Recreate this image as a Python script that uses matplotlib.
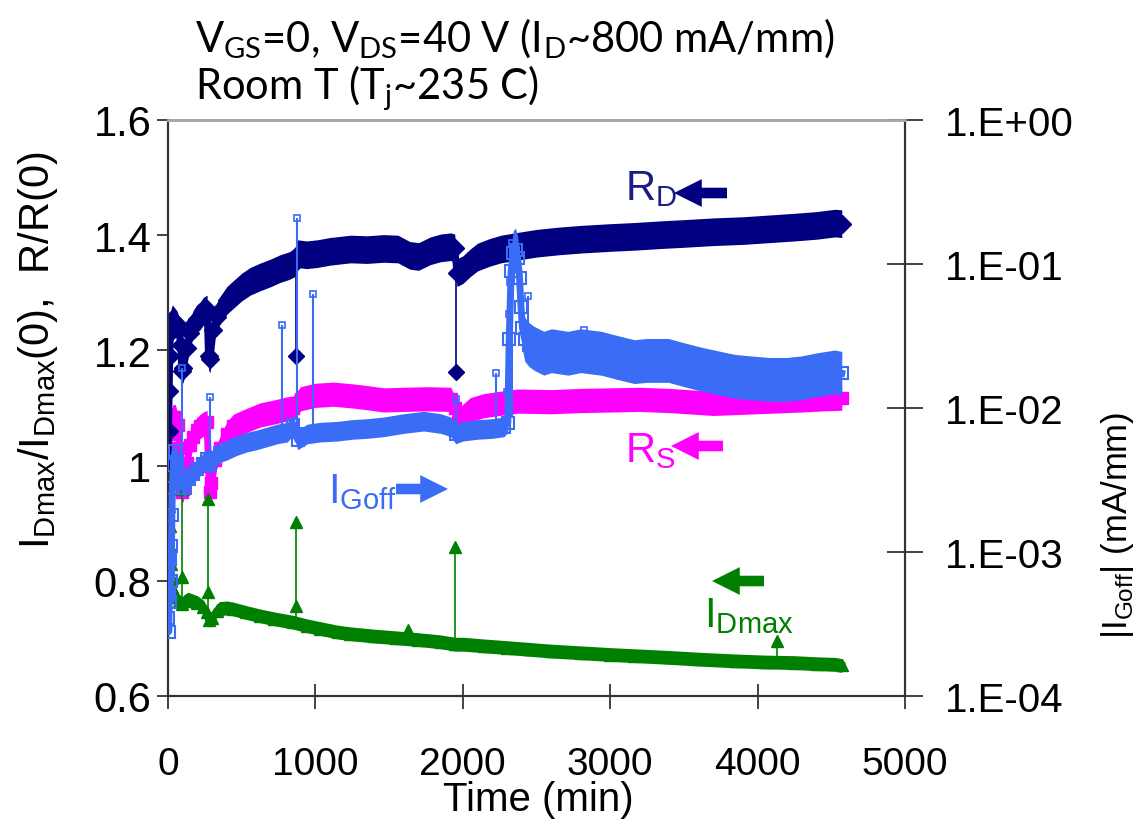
import matplotlib
matplotlib.use('Agg')
import matplotlib.pyplot as plt
from matplotlib.ticker import FixedLocator, FixedFormatter, NullLocator

# ---------------- data ----------------
# R_D / R_D(0)  (left axis)
RD = [(0, 1.00), (4, 1.06), (8, 1.13), (12, 1.19), (16, 1.23), (22, 1.25), (30, 1.255),
      (45, 1.25), (60, 1.245), (75, 1.235), (85, 1.21), (95, 1.165), (105, 1.17), (129, 1.205),
      (150, 1.23), (170, 1.245), (195, 1.255), (218, 1.26), (240, 1.268), (265, 1.272),
      (275, 1.19), (285, 1.185), (306, 1.235), (330, 1.258), (354, 1.27), (400, 1.287),
      (443, 1.297), (500, 1.31), (558, 1.32), (620, 1.327), (700, 1.335), (760, 1.342),
      (820, 1.347), (860, 1.352), (880, 1.368), (940, 1.366), (1013, 1.368), (1100, 1.372),
      (1238, 1.376), (1350, 1.375), (1463, 1.377), (1560, 1.376), (1640, 1.365), (1700, 1.363),
      (1780, 1.373), (1850, 1.378), (1918, 1.38), (1945, 1.378), (1960, 1.335), (2000, 1.34),
      (2050, 1.352), (2100, 1.362), (2180, 1.37), (2259, 1.376), (2400, 1.382), (2500, 1.386),
      (2650, 1.39), (2800, 1.393), (3000, 1.396), (3163, 1.398), (3350, 1.401), (3500, 1.403),
      (3700, 1.406), (3900, 1.408), (4075, 1.411), (4250, 1.414), (4400, 1.417), (4524, 1.421),
      (4571, 1.42)]
RD_spike_t = [870, 1952]
RD_spike_base = [1.36, 1.335]
RD_spike_tip = [1.19, 1.162]

# R_S / R_S(0)  (left axis)
RS = [(0, 0.99), (5, 1.03), (10, 1.055), (20, 1.075), (35, 1.085), (50, 1.085), (65, 1.07),
      (80, 1.03), (95, 0.955), (105, 0.96), (129, 1.005), (150, 1.035), (170, 1.05),
      (195, 1.062), (218, 1.068), (240, 1.072), (265, 1.075), (275, 1.0), (282, 0.955),
      (295, 0.97), (320, 1.01), (354, 1.03), (400, 1.055), (443, 1.068), (530, 1.078),
      (626, 1.088), (720, 1.093), (800, 1.098), (850, 1.10), (900, 1.116), (1000, 1.122),
      (1122, 1.124), (1250, 1.121), (1350, 1.118), (1463, 1.114), (1600, 1.115), (1750, 1.116),
      (1918, 1.115), (1945, 1.10), (1966, 1.075), (2000, 1.085), (2050, 1.097), (2143, 1.104),
      (2250, 1.108), (2374, 1.112), (2600, 1.111), (2800, 1.113), (3000, 1.114), (3200, 1.115),
      (3400, 1.113), (3700, 1.108), (3900, 1.11), (4100, 1.112), (4300, 1.114), (4450, 1.116),
      (4571, 1.117)]

# I_Dmax / I_Dmax(0)  (left axis)
ID = [(0, 0.98), (4, 0.96), (8, 0.93), (12, 0.895), (16, 0.86), (20, 0.83), (25, 0.805),
      (30, 0.79), (40, 0.78), (55, 0.772), (75, 0.765), (95, 0.76), (115, 0.765), (136, 0.768),
      (170, 0.765), (200, 0.762), (238, 0.755), (262, 0.745), (275, 0.732), (300, 0.735),
      (330, 0.748), (354, 0.752), (400, 0.753), (443, 0.751), (530, 0.745), (626, 0.739),
      (720, 0.734), (850, 0.728), (940, 0.722), (1034, 0.717), (1150, 0.711), (1238, 0.708),
      (1400, 0.704), (1550, 0.701), (1694, 0.698), (1850, 0.694), (1946, 0.69), (2000, 0.69),
      (2143, 0.687), (2300, 0.684), (2450, 0.681), (2599, 0.678), (2800, 0.675), (3000, 0.672),
      (3163, 0.670), (3400, 0.667), (3600, 0.664), (3844, 0.661), (4050, 0.659), (4250, 0.658),
      (4400, 0.656), (4524, 0.655), (4571, 0.653)]
ID_spike_t = [95, 272, 870, 1626, 1946, 4130]
ID_spike_base = [0.76, 0.735, 0.728, 0.70, 0.69, 0.658]
ID_spike_tip = [0.96, 0.942, 0.902, 0.715, 0.859, 0.695]
ID_mid_t = [95, 272, 870]
ID_mid_v = [0.806, 0.78, 0.756]

# |I_Goff| (mA/mm)  (right axis, log)
IG = [(2, 3.5e-4), (5, 2.8e-4), (8, 5.0e-4), (11, 8.9e-4), (14, 4.5e-4), (18, 1.1e-3),
      (22, 6.3e-4), (26, 1.8e-3), (30, 2.8e-3), (38, 4.0e-3), (48, 5.0e-3), (60, 4.2e-3),
      (75, 3.5e-3), (95, 3.0e-3), (115, 2.8e-3), (140, 3.2e-3), (170, 3.5e-3), (200, 3.8e-3),
      (235, 4.1e-3), (265, 4.4e-3), (285, 4.0e-3), (306, 4.5e-3), (354, 4.9e-3), (401, 5.1e-3),
      (470, 5.5e-3), (537, 5.8e-3), (600, 6.0e-3), (673, 6.3e-3), (740, 6.6e-3), (810, 6.8e-3),
      (850, 7.6e-3), (880, 6.0e-3), (945, 6.6e-3), (1034, 6.8e-3), (1150, 6.9e-3),
      (1250, 7.1e-3), (1350, 7.2e-3), (1463, 7.4e-3), (1600, 7.8e-3), (1735, 8.1e-3),
      (1850, 7.8e-3), (1918, 7.4e-3), (1952, 6.6e-3), (2000, 6.9e-3), (2100, 7.1e-3),
      (2200, 7.2e-3), (2280, 7.4e-3), (2305, 7.9e-3), (2315, 0.03), (2328, 0.09),
      (2342, 0.12), (2358, 0.125), (2372, 0.11), (2385, 0.08), (2395, 0.05), (2405, 0.036),
      (2420, 0.030), (2450, 0.0275), (2483, 0.026), (2550, 0.024), (2600, 0.025), (2714, 0.024),
      (2800, 0.025), (2939, 0.024), (3050, 0.0224), (3163, 0.021), (3250, 0.0214),
      (3395, 0.0214), (3500, 0.020), (3619, 0.0186), (3750, 0.0174), (3844, 0.0166),
      (3950, 0.0162), (4075, 0.0158), (4200, 0.0158), (4299, 0.0162), (4400, 0.017),
      (4524, 0.0178), (4571, 0.0174)]
IG_step_t = 2310   # time where the gate-leakage jump starts
IG_spike_t = [95, 286, 775, 875, 985, 1952, 2224, 2300, 2312, 2322, 2333, 2442, 2823]
IG_spike_base = [3.0e-3, 4.2e-3, 6.5e-3, 6.5e-3, 6.7e-3, 6.6e-3, 7.2e-3, 7.5e-3, 7.8e-3,
                 8.0e-3, 8.5e-3, 0.028, 0.024]
IG_spike_tip = [0.019, 0.012, 0.038, 0.21, 0.062, 0.0115, 0.0174, 0.013, 0.045, 0.075,
                0.14, 0.06, 0.035]

x_ticks = [0, 1000, 2000, 3000, 4000, 5000]
y_ticks = [0.6, 0.8, 1.0, 1.2, 1.4, 1.6]
y_tick_labels = ['0.6', '0.8', '1', '1.2', '1.4', '1.6']
y2_ticks = [1e-4, 1e-3, 1e-2, 1e-1, 1e0]
y2_tick_labels = ['1.E-04', '1.E-03', '1.E-02', '1.E-01', '1.E+00']

# ---------------- styling ----------------
C_RD = '#000080'
C_RS = '#FF00FF'
C_IG = '#3A6CF5'
C_ID = '#008000'
ARIAL = ['Liberation Sans', 'DejaVu Sans']
CAL = ['Lato', 'DejaVu Sans']
# vertical half-thickness of the scatter bands (style)
HW_RD = 0.024
HW_RS = 0.021
HW_ID = 0.012
FK_IG_EARLY = 1.17   # multiplicative half-width on log axis
FK_IG_LATE = 1.42

W, H = 1146, 829
fig = plt.figure(figsize=(W / 100, H / 100), dpi=100)
L, R, T, B = 168, 905, 121, 697
ax = fig.add_axes([L / W, 1 - B / H, (R - L) / W, (B - T) / H])
ax.set_xlim(0, 5000)
ax.set_ylim(0.6, 1.6)
ax.patch.set_alpha(0)

def unzip(pairs):
    return [p[0] for p in pairs], [p[1] for p in pairs]

def band(a, t, v, hw, color, marker, ms, z):
    a.fill_between(t, [y - hw for y in v], [y + hw for y in v], color=color, lw=0, zorder=z)
    a.plot(t, v, color=color, lw=5, zorder=z)
    a.plot(t, v, marker, color=color, ms=ms, zorder=z)

# R_S band
t, v = unzip(RS)
band(ax, t, v, HW_RS, C_RS, 's', 8, 2)
# R_D band
t, v = unzip(RD)
ax.vlines(RD_spike_t, RD_spike_base, RD_spike_tip, color=C_RD, lw=1.2, zorder=3)
ax.plot(RD_spike_t, RD_spike_tip, 'D', color=C_RD, ms=8, zorder=3)
band(ax, t, v, HW_RD, C_RD, 'D', 9, 3)
# I_Dmax band
t, v = unzip(ID)
ax.vlines(ID_spike_t, ID_spike_base, ID_spike_tip, color=C_ID, lw=1.2, zorder=4)
ax.plot(ID_spike_t, ID_spike_tip, '^', color=C_ID, ms=9, zorder=4)
ax.plot(ID_mid_t, ID_mid_v, '^', color=C_ID, ms=9, zorder=4)
band(ax, t, v, HW_ID, C_ID, '^', 8, 4)

# right axis
ax2 = ax.twinx()
ax2.set_yscale('log')
ax2.set_ylim(1e-4, 1)
t, v = unzip(IG)
ax2.vlines(IG_spike_t, IG_spike_base, IG_spike_tip, color=C_IG, lw=1.5, zorder=5)
ax2.plot(IG_spike_t, IG_spike_tip, 's', mfc='none', mec=C_IG, ms=5, mew=1.2, zorder=5)
fk = [FK_IG_EARLY if x < IG_step_t else FK_IG_LATE for x in t]
ax2.fill_between(t, [y / k for y, k in zip(v, fk)], [y * k for y, k in zip(v, fk)],
                 color=C_IG, lw=0, zorder=5)
ax2.plot(t, v, color=C_IG, lw=5, zorder=5)
ax2.plot(t, v, 's', mfc='none', mec=C_IG, ms=8, mew=1.5, zorder=5)

# ticks and spines
ax.xaxis.set_major_locator(FixedLocator(x_ticks))
ax.set_xticklabels([str(x) for x in x_ticks])
ax.yaxis.set_major_locator(FixedLocator(y_ticks))
ax.yaxis.set_major_formatter(FixedFormatter(y_tick_labels))
ax.tick_params(axis='x', direction='inout', length=18, width=1.2, pad=27, labelsize=28,
               color='#222222')
ax.tick_params(axis='y', direction='out', length=8, width=1.2, pad=4, labelsize=30,
               color='#222222')
ax2.yaxis.set_major_locator(FixedLocator(y2_ticks))
ax2.yaxis.set_major_formatter(FixedFormatter(y2_tick_labels))
ax2.yaxis.set_minor_locator(NullLocator())
ax2.tick_params(axis='y', direction='inout', length=26, width=1.2, pad=16, labelsize=29,
                color='#222222')
for a in (ax, ax2):
    for lab in a.get_xticklabels() + a.get_yticklabels():
        lab.set_family(ARIAL)
    a.spines['top'].set_color('#a8a8a8')
    a.spines['top'].set_linewidth(2)
    for s in ('left', 'right', 'bottom'):
        a.spines[s].set_color('#333333')
        a.spines[s].set_linewidth(1.5)

# axis labels
fig.text(538 / W, 1 - 800 / H, 'Time (min)', ha='center', va='center', fontsize=29,
         family=ARIAL)
fig.text(38 / W, 1 - 350 / H,
         r'I$_{\mathregular{Dmax}}$/I$_{\mathregular{Dmax}}$(0),  R/R(0)',
         ha='center', va='center', rotation=90, fontsize=30, family=ARIAL)
fig.text(1117 / W, 1 - 525 / H, r'|I$_{\mathregular{Goff}}$| (mA/mm)',
         ha='center', va='center', rotation=90, fontsize=25, family=ARIAL)

# title lines
fig.text(195 / W, 1 - 52 / H,
         r'V$_{\mathregular{GS}}$=0, V$_{\mathregular{DS}}$=40 V (I$_{\mathregular{D}}$~800 mA/mm)',
         ha='left', va='baseline', fontsize=30, family=CAL)
fig.text(195 / W, 1 - 99 / H, r'Room T (T$_{\mathregular{j}}$~235 C)',
         ha='left', va='baseline', fontsize=30, family=CAL)

# series annotations (pixel positions -> data coords)
def px2d(px, py):
    return (px - L) / (R - L) * 5000, 0.6 + (B - py) / (B - T)

def label(px, py, main, sub, color):
    x, y = px2d(px, py)
    ax.text(x, y, main + r'$_{\mathregular{' + sub + '}}$', color=color, fontsize=30,
            family=ARIAL, ha='left', va='baseline', zorder=10)

def arrow(px0, px1, py, color):
    x0, y0 = px2d(px0, py)
    x1, y1 = px2d(px1, py)
    ax.annotate('', xy=(x1, y1), xytext=(x0, y0), zorder=10,
                arrowprops=dict(arrowstyle='simple,head_length=1.0,head_width=1.0,tail_width=0.38',
                                color=color, mutation_scale=20, shrinkA=0, shrinkB=0, lw=0))

label(625, 200, 'R', 'D', '#1c1c86')
arrow(727, 674, 194, C_RD)
label(625, 462, 'R', 'S', C_RS)
arrow(723, 671, 447, C_RS)
label(328, 503, 'I', 'Goff', C_IG)
arrow(396, 448, 490, C_IG)
label(704, 627, 'I', 'Dmax', C_ID)
arrow(764, 712, 582, C_ID)

fig.savefig('out.png', dpi=100)
